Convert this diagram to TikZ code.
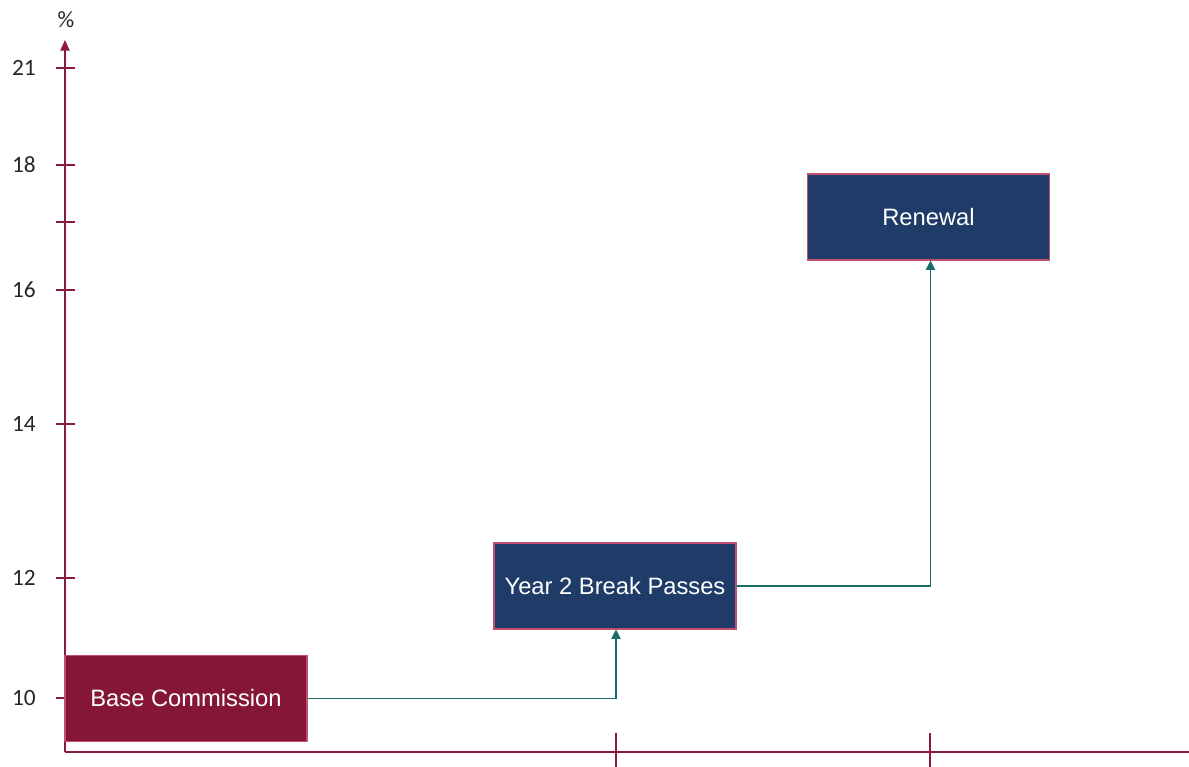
\documentclass[tikz,border=0pt]{standalone}
\usepackage{fontspec}
\setmainfont{Liberation Sans}
\newfontfamily\axisfont{Carlito}
\usetikzlibrary{arrows.meta}
\definecolor{maroon}{HTML}{861638}
\definecolor{navy}{HTML}{1F3B68}
\definecolor{teal}{HTML}{1A6B6B}
\definecolor{axiscol}{HTML}{8A1A44}
\definecolor{boxedge}{HTML}{C0506E}
\tikzset{
  axisline/.style={draw=axiscol, line width=0.9pt},
  ticklbl/.style={font=\axisfont\fontsize{17.5}{20}\selectfont, text=black!85, inner sep=0pt},
  stepbox/.style={draw=boxedge, line width=0.8pt, minimum width=181.5pt, minimum height=64.5pt, inner sep=0pt, text=white, font=\fontsize{17.8}{20}\selectfont},
  conn/.style={draw=teal, line width=0.8pt, -{Triangle[length=7pt,width=7pt]}},
}
\begin{document}
\begin{tikzpicture}[x=0.75pt,y=-0.75pt]
\useasboundingbox (0,0) rectangle (1189,767);
% axes
\coordinate (o) at (65,752);
\coordinate (ytop) at (65,40);
\coordinate (xend) at (1189,752);
\draw[axisline, -{Triangle[length=8pt,width=7pt]}] (o) -- (ytop);
\draw[axisline] (o) -- (xend);
\node[ticklbl] (pct) at (66,20) {\%};
% y ticks
\foreach \yy/\lab in {68/21,165/18,290/16,424/14,578/12,698/10}{
  \draw[axisline] (56,\yy) -- (75,\yy);
  \node[ticklbl, anchor=east] at (36,\yy) {\lab};
}
\draw[axisline] (56,222) -- (75,222);
% x ticks
\draw[axisline] (616,733) -- (616,767);
\draw[axisline] (930,733) -- (930,767);
% boxes
\node[stepbox, fill=maroon] (base) at (186,698.5) {Base Commission};
\node[stepbox, fill=navy] (year2) at (615,586) {Year 2 Break Passes};
\node[stepbox, fill=navy] (renew) at (928.5,217) {Renewal};
% connectors
\draw[conn] (base.east) -| ([xshift=0.75pt]year2.south);
\draw[conn] (year2.east) -| ([xshift=1.5pt]renew.south);
\end{tikzpicture}
\end{document}
